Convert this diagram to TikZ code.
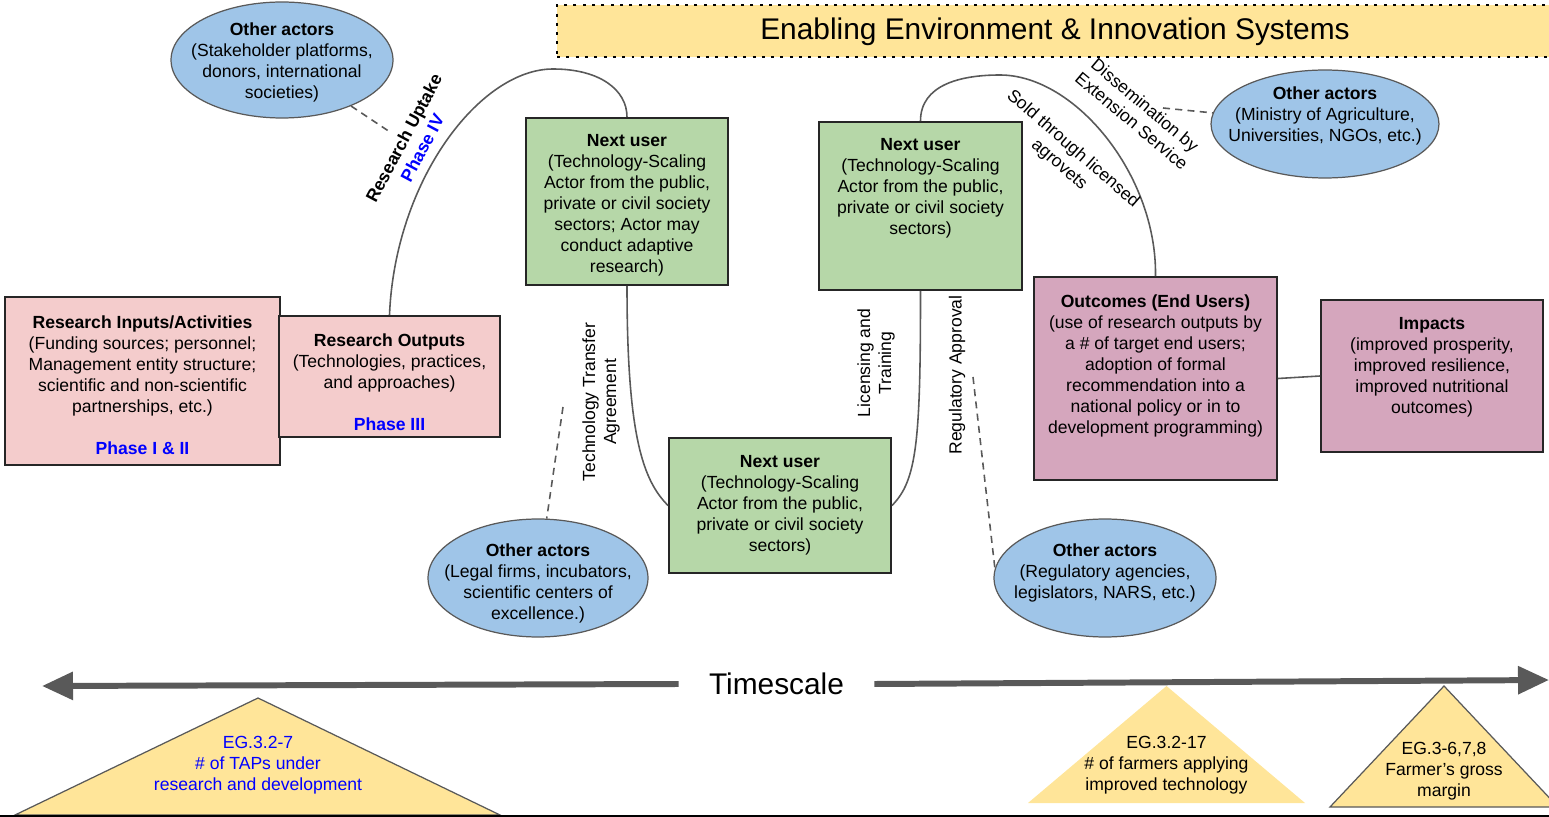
\documentclass[tikz,border=0pt]{standalone}
\usepackage{fontspec}
\setmainfont{Liberation Sans}
\usetikzlibrary{positioning,arrows.meta,fit,shapes.geometric}

\definecolor{inputpink}{HTML}{F4CCCC}
\definecolor{usergreen}{HTML}{B6D7A8}
\definecolor{outcomemauve}{HTML}{D5A6BD}
\definecolor{actorblue}{HTML}{9FC5E8}
\definecolor{envyellow}{HTML}{FFE599}
\definecolor{linegray}{HTML}{595959}
\definecolor{phaseblue}{HTML}{0000FF}

\begin{document}
\begin{tikzpicture}[
  x=0.02cm, y=-0.02cm,
  box/.style={
    rectangle, draw=black!85, line width=1.1pt, inner sep=0pt
  },
  inputbox/.style={box, fill=inputpink},
  userbox/.style={box, fill=usergreen},
  outcomebox/.style={box, fill=outcomemauve},
  boxtext/.style={
    align=center, inner sep=0pt,
    font=\fontsize{10}{11.9}\selectfont
  },
  actor/.style={
    ellipse, draw=linegray, line width=0.7pt,
    fill=actorblue, inner sep=0pt
  },
  envbox/.style={
    rectangle, draw=black, fill=envyellow, inner sep=0pt,
    line width=1.7pt, dash pattern=on 1.7pt off 3.6pt
  },
  bigtext/.style={font=\fontsize{17}{20}\selectfont},
  curve/.style={draw=linegray, line width=0.9pt},
  dashlink/.style={draw=linegray, line width=0.9pt, dash pattern=on 4pt off 3pt},
  kpi/.style={fill=envyellow, draw=linegray, line width=0.7pt},
  timeline/.style={
    draw=linegray, line width=3.4pt,
    -{Triangle[length=0.62cm,width=0.54cm]}
  }
]
\useasboundingbox (0,0) rectangle (1549,817);

% =====================================================
% ENABLING ENVIRONMENT
% =====================================================

\node[envbox, fit={(557,5) (1565,57)}] (env) {};
\node[bigtext] (envtext) at (1055,32)
{Enabling Environment \& Innovation Systems};

% =====================================================
% RESEARCH
% =====================================================

\node[inputbox, fit={(5,297) (280,465)}] (ri) {};
\node[boxtext] (ritext) at (142.5,385)
{\textbf{Research Inputs/Activities}\\
(Funding sources; personnel;\\
Management entity structure;\\
scientific and non-scientific\\
partnerships, etc.)\\[0.42cm]
\textcolor{phaseblue}{\textbf{Phase I \& II}}};

\node[inputbox, fit={(279,316) (500,437)}] (ro) {};
\node[boxtext] (rotext) at (389.5,382.5)
{\textbf{Research Outputs}\\
(Technologies, practices,\\
and approaches)\\[0.42cm]
\textcolor{phaseblue}{\textbf{Phase III}}};

% =====================================================
% NEXT USERS
% =====================================================

\node[userbox, fit={(526,118) (728,285)}] (nu1) {};
\node[boxtext] (nu1text) at (627,205.5)
{\textbf{Next user}\\
(Technology-Scaling\\
Actor from the public,\\
private or civil society\\
sectors; Actor may\\
conduct adaptive\\
research)};

\node[userbox, fit={(819,122) (1022,290)}] (nu2) {};
\node[boxtext] (nu2text) at (920.5,188)
{\textbf{Next user}\\
(Technology-Scaling\\
Actor from the public,\\
private or civil society\\
sectors)};

\node[userbox, fit={(669,438) (891,573)}] (nu3) {};
\node[boxtext] (nu3text) at (780,505.5)
{\textbf{Next user}\\
(Technology-Scaling\\
Actor from the public,\\
private or civil society\\
sectors)};

% =====================================================
% OUTCOMES AND IMPACTS
% =====================================================

\node[outcomebox, fit={(1034,277) (1277,480)}] (oc) {};
\node[boxtext] (octext) at (1155.5,366)
{\textbf{Outcomes (End Users)}\\
(use of research outputs by\\
a \# of target end users;\\
adoption of formal\\
recommendation into a\\
national policy or in to\\
development programming)};

\node[outcomebox, fit={(1321,300) (1543,452)}] (imp) {};
\node[boxtext] (imptext) at (1432,367.5)
{\textbf{Impacts}\\
(improved prosperity,\\
improved resilience,\\
improved nutritional\\
outcomes)};

% =====================================================
% OTHER ACTORS
% =====================================================

\node[actor, minimum width=4.44cm, minimum height=2.32cm] (oa1) at (282,60) {};
\node[boxtext] (oa1text) at (282,62.5)
{\textbf{Other actors}\\
(Stakeholder platforms,\\
donors, international\\
societies)};

\node[actor, minimum width=4.56cm, minimum height=2.16cm] (oa2) at (1325,124) {};
\node[boxtext] (oa2text) at (1325,116)
{\textbf{Other actors}\\
(Ministry of Agriculture,\\
Universities, NGOs, etc.)};

\node[actor, minimum width=4.4cm, minimum height=2.36cm] (oa3) at (538,578) {};
\node[boxtext] (oa3text) at (538,583.5)
{\textbf{Other actors}\\
(Legal firms, incubators,\\
scientific centers of\\
excellence.)};

\node[actor, minimum width=4.44cm, minimum height=2.36cm] (oa4) at (1105,578) {};
\node[boxtext] (oa4text) at (1105,573)
{\textbf{Other actors}\\
(Regulatory agencies,\\
legislators, NARS, etc.)};

% =====================================================
% PATHWAY
% =====================================================

\draw[curve] (ro.north) .. controls (395,180) and (480,69) .. (553,69)
  .. controls (600,69) and (627,90) .. (nu1.north);
\draw[curve] (nu1.south) .. controls +(0,150) and +(-25,-25) .. (nu3.west);
\draw[curve] (nu3.east) .. controls +(25,-25) and +(0,150) .. (nu2.south);
\draw[curve] (nu2.north) .. controls (920.5,85) and (960,75) .. (1000,75)
  .. controls (1075,75) and (1157,175) .. (oc.north);
\draw[curve] (oc.east) -- (imp.west);

\node[boxtext, rotate=62] (uptake) at (413,143)
{\textbf{Research Uptake}\\
\textcolor{phaseblue}{\textbf{Phase IV}}};
\node[boxtext, rotate=90] (transfer) at (601,402)
{Technology Transfer\\Agreement};
\node[boxtext, rotate=90] (licensing) at (876,363)
{Licensing and\\Training};
\node[boxtext, rotate=90] (regulatory) at (957,375)
{Regulatory Approval};
\node[boxtext, rotate=-41] (sold) at (1066,157)
{Sold through licensed\\agrovets};
\node[boxtext, rotate=-40] (dissemination) at (1138.5,113)
{Dissemination by\\Extension Service};

% dashed links to the other actors
\coordinate (d1) at (390,132);
\coordinate (d2) at (1163,108);
\coordinate (d3) at (563,407);
\coordinate (d4) at (973,377);
\draw[dashlink] (oa1) -- (d1);
\draw[dashlink] (d2) -- (oa2);
\draw[dashlink] (d3) -- (oa3);
\draw[dashlink] (d4) -- (oa4.175);

% =====================================================
% TIMESCALE AND INDICATORS
% =====================================================

\draw[kpi] (15,815) -- (258,698) -- (500,815) -- cycle;
\node[boxtext, text=phaseblue] (kpi1) at (258,765)
{EG.3.2-7\\
\# of TAPs under\\
research and development};

\fill[envyellow] (1028,803) -- (1166.5,686) -- (1305,803) -- cycle;
\node[boxtext] (kpi2) at (1166.5,765)
{EG.3.2-17\\
\# of farmers applying\\
improved technology};

\draw[kpi] (1330,807) -- (1444,686) -- (1558,807) -- cycle;
\node[boxtext] (kpi3) at (1444,771)
{EG.3-6,7,8\\
Farmer's gross\\
margin};

\node[bigtext, inner xsep=0.6cm, inner ysep=0pt] (ts) at (776.5,684) {Timescale};
\coordinate (tsleft) at (42,686);
\coordinate (tsright) at (1549,680);
\draw[timeline] (ts.west) -- (tsleft);
\draw[timeline] (ts.east) -- (tsright);

\draw[black, line width=1pt] (0,816) -- (1549,816);

\end{tikzpicture}
\end{document}
